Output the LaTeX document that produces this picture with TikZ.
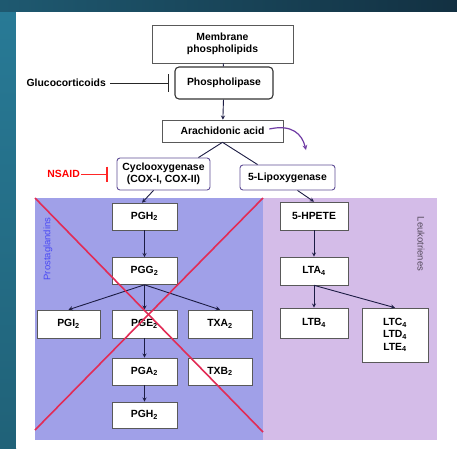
\documentclass[tikz,border=0pt]{standalone}
\usepackage{fontspec}
\setmainfont{Liberation Sans}
\usetikzlibrary{arrows.meta}
\definecolor{frametop}{RGB}{16,40,56}
\definecolor{frameleft}{RGB}{40,122,150}
\definecolor{pgfill}{RGB}{160,160,232}
\definecolor{ltfill}{RGB}{212,188,232}
\definecolor{enz}{RGB}{96,78,150}
\definecolor{flow}{RGB}{28,28,68}
\definecolor{cross}{RGB}{226,44,86}
\definecolor{curv}{RGB}{112,60,164}

\begin{document}
\begin{tikzpicture}[x=1pt, y=-1pt, >=stealth, font=\bfseries\fontsize{10.4}{12.4}\selectfont,
  box/.style={draw=black!65, fill=white, line width=0.6pt, minimum width=65pt,
    minimum height=27pt, inner sep=1pt, align=center},
  enzbox/.style={box, draw=enz, rounded corners=3pt, line width=0.9pt},
  flowline/.style={->, flow, line width=0.9pt},
  inhib/.style={-{Bar[width=#1, line width=1.2pt]}, line width=1pt}]
  \useasboundingbox (0,0) rectangle (457,448);
  % marco de fondo
  \shade[left color=frameleft!60!frametop, right color=frametop!90!frameleft] (0,0) rectangle (457,12);
  \shade[top color=frameleft, bottom color=frameleft!80!black] (0,12) rectangle (16,448);
  \fill[white] (16,12) rectangle (457,448);
  % zonas de las dos rutas
  \coordinate (pg nw) at (35,198);   \coordinate (pg se) at (263,440);
  \coordinate (lt nw) at (263,198);  \coordinate (lt se) at (437,440);
  \fill[pgfill] (pg nw) rectangle (pg se);
  \fill[ltfill] (lt nw) rectangle (lt se);
  \node[rotate=90, text=pgfill!45!blue, font=\fontsize{9.5}{10}\selectfont] (pglabel) at (48,249) {Prostaglandins};
  \node[rotate=-90, text=ltfill!40!black, font=\fontsize{9.5}{10}\selectfont] (ltlabel) at (421,244) {Leukotrienes};
  % cadena superior
  \node[box, minimum width=141pt, minimum height=38pt, inner sep=0pt] (memb) at (222.5,44)
    {Membrane\\phospholipids};
  \node[box, rounded corners=4pt, line width=1.1pt, draw=black!80, minimum width=98pt,
    minimum height=32pt] (plase) at (224,83) {Phospholipase};
  \node[box, minimum width=121pt, minimum height=22pt] (aa) at (222.5,131) {Arachidonic acid};
  \node[enzbox, minimum width=93pt, minimum height=32pt, inner sep=0pt] (cox) at (163.5,174)
    {Cyclooxygenase\\(COX-I, COX-II)};
  \node[enzbox, minimum width=95pt, minimum height=25pt] (lox) at (287.5,177.5) {5-Lipoxygenase};
  % inhibidores
  \node[anchor=east, inner sep=0pt] (gluc) at (106,83) {Glucocorticoids};
  \node[anchor=east, inner sep=0pt, text=red] (nsaid) at (80,174) {NSAID};
  \draw[inhib=18pt, black!85, shorten <=4pt, shorten >=5pt] (gluc.east) -- (plase.west);
  \draw[inhib=15pt, red!85!white, shorten <=1pt, shorten >=9pt] (nsaid.east) -- (cox.west);
  % prostaglandinas
  \node[box] (pgh) at (144.5,216.5) {PGH\textsubscript{2}};
  \node[box] (pgg) at (144.5,271) {PGG\textsubscript{2}};
  \node[box, minimum width=63pt, minimum height=28pt] (pgi) at (68.5,324) {PGI\textsubscript{2}};
  \node[box, minimum height=28pt] (pge) at (144.5,324) {PGE\textsubscript{2}};
  \node[box, minimum width=64pt, minimum height=28pt] (txa) at (220,324) {TXA\textsubscript{2}};
  \node[box] (pga) at (144.5,371.5) {PGA\textsubscript{2}};
  \node[box, minimum width=64pt] (txb) at (220,371.5) {TXB\textsubscript{2}};
  \node[box, minimum height=26pt] (pgj) at (144.5,415) {PGH\textsubscript{2}};
  % leucotrienos
  \node[box, minimum width=68pt, minimum height=28pt] (hpete) at (314,216) {5-HPETE};
  \node[box, minimum width=68pt, minimum height=28pt] (lta) at (314,271) {LTA\textsubscript{4}};
  \node[box, minimum width=68pt, minimum height=30pt] (ltb) at (314,323) {LTB\textsubscript{4}};
  \node[box, minimum width=66pt, minimum height=54pt, inner sep=0pt] (ltc) at (395,335)
    {LTC\textsubscript{4}\\LTD\textsubscript{4}\\LTE\textsubscript{4}};
  % conexiones
  \draw[flow, line width=0.9pt] (memb) -- (plase);
  \draw[flowline] (plase) -- (aa);
  \draw[flow, line width=0.9pt] (aa.south) -- ([xshift=-12pt]cox.north east);
  \draw[flow, line width=0.9pt] (aa.south) -- ([xshift=18pt]lox.north west);
  \coordinate (curv end) at (306,150);
  \draw[->, curv, line width=1.2pt] ([xshift=-14pt, yshift=2pt]aa.east)
    .. controls (292,124) and (302,134) .. (curv end);
  \draw[flowline] ([xshift=-10pt]cox.south) -- ([xshift=-2.5pt]pgh.north);
  \draw[flowline] ([xshift=10pt]lox.south) -- (hpete.north);
  \draw[flowline] (pgh) -- (pgg);
  \draw[flowline] (pgg.south) -- (pgi.north);
  \draw[flowline] (pgg.south) -- (pge.north);
  \draw[flowline] (pgg.south) -- (txa.north);
  \draw[flowline] (pge) -- (pga);
  \draw[flowline] (pga) -- (pgj);
  \draw[flowline] (hpete) -- (lta);
  \draw[flowline] (lta) -- (ltb);
  \draw[flowline] (lta.south) -- (ltc.north);
  % cruz roja sobre la ruta de la ciclooxigenasa
  \coordinate (x1a) at (35,198);  \coordinate (x1b) at (263,432);
  \coordinate (x2a) at (35,430);  \coordinate (x2b) at (263,198);
  \draw[cross, line width=1.6pt] (x1a) -- (x1b);
  \draw[cross, line width=1.6pt] (x2a) -- (x2b);
\end{tikzpicture}
\end{document}
